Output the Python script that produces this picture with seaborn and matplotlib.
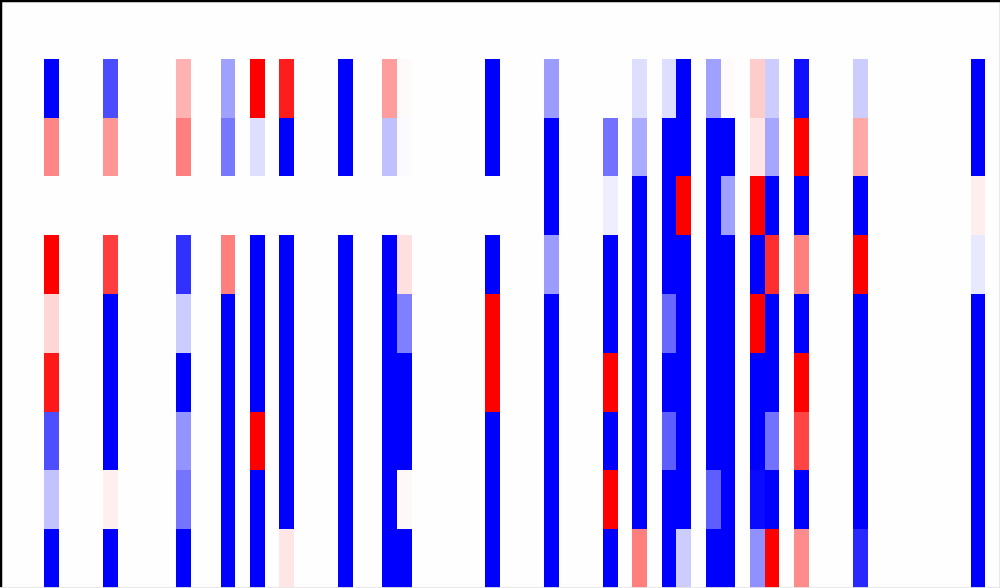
"""
Sparse coefficient heat-map (bwr, centred at zero), no tick labels.
"""
import numpy as np
import matplotlib
matplotlib.use("Agg")
import matplotlib.pyplot as plt
import seaborn as sns

N_ROWS = 10
N_COLS = 68

# columns that carry non-zero values
active_cols = [3, 7, 12, 15, 17, 19, 23, 26, 27, 33, 37, 41, 43, 45, 46,
               48, 49, 51, 52, 54, 58, 66]

# values for rows 1..9 of each active column (row 0 is all zero)
col_values = [
    [-1.00,  0.47, 0.00,  1.00,  0.16,  0.90, -0.69, -0.24, -1.00],  # 3
    [-0.70,  0.41, 0.00,  0.75, -1.00, -1.00, -1.00,  0.06, -1.00],  # 7
    [ 0.30,  0.50, 0.00, -0.81, -0.20, -1.00, -0.42, -0.54, -1.00],  # 12
    [-0.37, -0.53, 0.00,  0.50, -1.00, -1.00, -1.00, -1.00, -1.00],  # 15
    [ 1.00, -0.13, 0.00, -1.00, -1.00, -1.00,  1.00, -1.00, -1.00],  # 17
    [ 0.89, -1.00, 0.00, -1.00, -1.00, -1.00, -1.00, -1.00,  0.10],  # 19
    [-1.00, -1.00, 0.00, -1.00, -1.00, -1.00, -1.00, -1.00, -1.00],  # 23
    [ 0.39, -0.25, 0.00, -1.00, -1.00, -1.00, -1.00, -1.00, -1.00],  # 26
    [ 0.02, -0.02, 0.00,  0.12, -0.50, -1.00, -1.00,  0.03, -1.00],  # 27
    [-1.00, -1.00, 0.00, -1.00,  1.00,  1.00, -1.00, -1.00, -1.00],  # 33
    [-0.39, -1.00, -1.00, -0.39, -1.00, -1.00, -1.00, -1.00, -1.00],  # 37
    [ 0.00, -0.55, -0.07, -1.00, -1.00,  1.00, -1.00,  1.00, -1.00],  # 41
    [-0.13, -0.33, -1.00, -1.00, -1.00, -1.00, -1.00, -1.00,  0.50],  # 43
    [-0.13, -1.00, -1.00, -1.00, -0.59, -1.00, -0.63, -1.00, -1.00],  # 45
    [-1.00, -1.00,  1.00, -1.00, -1.00, -1.00, -1.00, -1.00, -0.20],  # 46
    [-0.37, -1.00, -1.00, -1.00, -1.00, -1.00, -1.00, -0.63, -1.00],  # 48
    [ 0.02, -1.00, -0.37, -1.00, -1.00, -1.00, -1.00, -1.00, -1.00],  # 49
    [ 0.20,  0.10,  1.00, -1.00,  1.00, -1.00, -1.00, -0.96, -0.43],  # 51
    [-0.20, -0.35, -1.00,  0.82, -1.00, -1.00, -0.55, -1.00,  1.00],  # 52
    [-0.93,  1.00, -1.00,  0.50, -1.00,  1.00,  0.73, -1.00,  0.45],  # 54
    [-0.20,  0.34, -1.00,  1.00, -1.00, -1.00, -1.00, -1.00, -0.84],  # 58
    [-1.00, -1.00,  0.07, -0.09, -1.00, -1.00, -1.00, -1.00, -1.00],  # 66
]

# ── build full matrix ─────────────────────────────────────────────────────
matrix = np.zeros((N_ROWS, N_COLS))
for c, vals in zip(active_cols, col_values):
    matrix[1:, c] = vals

fig = plt.figure(figsize=(10, 5.88), dpi=100)
ax = fig.add_axes([0, 0, 1, 1])
sns.heatmap(matrix, cmap="bwr", vmin=-1, vmax=1, center=0,
            cbar=False, xticklabels=False, yticklabels=False, ax=ax)

# frame: dark on top/left, faint grey on right/bottom
for side in ["top", "left"]:
    ax.spines[side].set_visible(True)
    ax.spines[side].set_color("black")
    ax.spines[side].set_linewidth(2.5)
for side in ["right", "bottom"]:
    ax.spines[side].set_visible(True)
    ax.spines[side].set_color("#e6e6e6")
    ax.spines[side].set_linewidth(2)

fig.savefig("out.png", dpi=100)
